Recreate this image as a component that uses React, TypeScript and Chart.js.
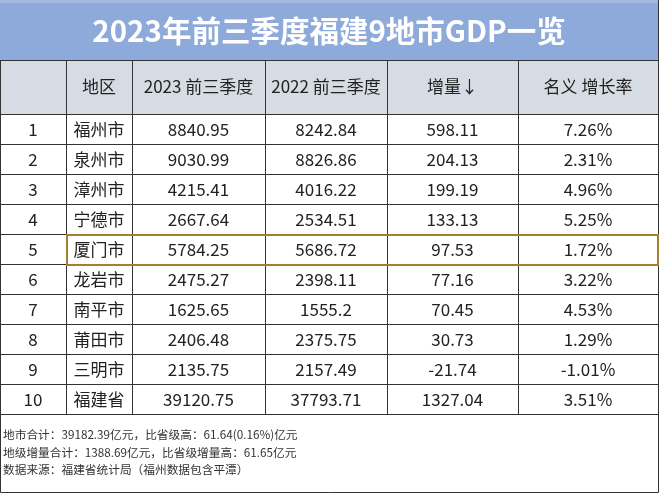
import React, { useEffect, useRef } from "react";
import { Chart, registerables } from "chart.js";

Chart.register(...registerables);

const titleText = "2023年前三季度福建9地市GDP一览";
const headers = ["", "地区", "2023 前三季度", "2022 前三季度", "增量↓", "名义 增长率"];
const ranks = ["1", "2", "3", "4", "5", "6", "7", "8", "9", "10"];
const regions = ["福州市", "泉州市", "漳州市", "宁德市", "厦门市", "龙岩市", "南平市", "莆田市", "三明市", "福建省"];
const gdp2023 = [8840.95, 9030.99, 4215.41, 2667.64, 5784.25, 2475.27, 1625.65, 2406.48, 2135.75, 39120.75];
const gdp2022 = [8242.84, 8826.86, 4016.22, 2534.51, 5686.72, 2398.11, 1555.2, 2375.75, 2157.49, 37793.71];
const increments = [598.11, 204.13, 199.19, 133.13, 97.53, 77.16, 70.45, 30.73, -21.74, 1327.04];
const growthRates = [7.26, 2.31, 4.96, 5.25, 1.72, 3.22, 4.53, 1.29, -1.01, 3.51];
const highlightRow = 4;
const footnotes = [
  "地市合计：39182.39亿元，比省级高：61.64(0.16%)亿元",
  "地级增量合计：1388.69亿元，比省级增量高：61.65亿元",
  "数据来源：福建省统计局（福州数据包含平潭）",
];

// layout: column edges in x-scale units
const COL_EDGES = [0, 66, 132, 265, 387, 518, 658];
const HEADER_UNITS = 1.8;
const FONT = '"Noto Sans CJK SC", "Noto Sans", sans-serif';

const tablePlugin = {
  id: "tablePlugin",
  beforeDraw(chart: any) {
    const { ctx, chartArea, scales } = chart;
    const xs = scales.x;
    const ys = scales.y;
    const W = chart.width;
    const H = chart.height;
    const px = (v: number) => Math.round(xs.getPixelForValue(v));
    const py = (v: number) => Math.round(ys.getPixelForValue(v));
    const left = px(COL_EDGES[0]);
    const right = px(COL_EDGES[COL_EDGES.length - 1]);
    const nRows = regions.length;

    ctx.save();
    ctx.fillStyle = "#ffffff";
    ctx.fillRect(0, 0, W, H);

    // title bar
    const top = chartArea.top;
    ctx.fillStyle = "#8eaadb";
    ctx.fillRect(left, 0, right - left, top);
    ctx.fillStyle = "#a3b8de";
    ctx.fillRect(left, 0, right - left, 3);
    ctx.fillStyle = "#ffffff";
    ctx.font = `bold 29.5px ${FONT}`;
    ctx.textAlign = "center";
    ctx.textBaseline = "middle";
    ctx.fillText(titleText, (left + right) / 2, top / 2 + 1);

    // header background
    const hTop = py(-HEADER_UNITS);
    const hBot = py(0);
    ctx.fillStyle = "#d6dce4";
    ctx.fillRect(left, hTop, right - left, hBot - hTop);

    // header text
    ctx.fillStyle = "#222222";
    ctx.font = `17px ${FONT}`;
    headers.forEach((h, c) => {
      const cx = (px(COL_EDGES[c]) + px(COL_EDGES[c + 1])) / 2;
      ctx.fillText(h, cx, (hTop + hBot) / 2);
    });

    // body text
    ctx.font = `17px ${FONT}`;
    for (let i = 0; i < nRows; i++) {
      const cy = (py(i) + py(i + 1)) / 2;
      const cells = [
        ranks[i],
        regions[i],
        String(gdp2023[i]),
        String(gdp2022[i]),
        String(increments[i]),
        `${growthRates[i].toFixed(2)}%`,
      ];
      cells.forEach((t, c) => {
        const cx = (px(COL_EDGES[c]) + px(COL_EDGES[c + 1])) / 2;
        ctx.fillText(t, cx, cy + 1);
      });
    }

    // grid lines
    ctx.strokeStyle = "#333333";
    ctx.lineWidth = 1;
    ctx.beginPath();
    ctx.moveTo(left, top + 0.5);
    ctx.lineTo(right, top + 0.5);
    for (let i = 0; i <= nRows; i++) {
      const y = py(i) + 0.5;
      ctx.moveTo(left, y);
      ctx.lineTo(right, y);
    }
    const tBot = py(nRows);
    for (let c = 1; c < COL_EDGES.length - 1; c++) {
      const x = px(COL_EDGES[c]) + 0.5;
      ctx.moveTo(x, hTop);
      ctx.lineTo(x, tBot);
    }
    ctx.stroke();

    // outer frame
    ctx.beginPath();
    ctx.moveTo(left + 0.5, top);
    ctx.lineTo(left + 0.5, H - 1.5);
    ctx.lineTo(right + 0.5, H - 1.5);
    ctx.lineTo(right + 0.5, 0);
    ctx.stroke();

    // highlight row
    const r0 = py(highlightRow);
    const r1 = py(highlightRow + 1);
    ctx.strokeStyle = "#a47f2d";
    ctx.lineWidth = 2;
    ctx.strokeRect(px(COL_EDGES[1]) + 1, r0 + 1, right - px(COL_EDGES[1]) - 1, r1 - r0);

    // footnotes
    ctx.fillStyle = "#333333";
    ctx.font = `11.7px ${FONT}`;
    ctx.textAlign = "left";
    footnotes.forEach((f, k) => {
      ctx.fillText(f, left + 3, tBot + 21 + k * 17.5);
    });
    ctx.restore();
  },
};

export default function App() {
  const canvasRef = useRef<HTMLCanvasElement | null>(null);

  useEffect(() => {
    document.body.style.margin = "0";
    const canvas = canvasRef.current;
    if (!canvas) return;
    const chart = new Chart(canvas, {
      type: "scatter",
      data: { datasets: [{ data: [], pointRadius: 0 }] },
      options: {
        responsive: false,
        animation: false,
        devicePixelRatio: 1,
        layout: { padding: { top: 60, bottom: 80, left: 0, right: 2 } },
        plugins: { legend: { display: false }, tooltip: { enabled: false }, title: { display: false } },
        scales: {
          x: { type: "linear", display: false, min: COL_EDGES[0], max: COL_EDGES[COL_EDGES.length - 1] },
          y: { type: "linear", display: false, reverse: true, min: -HEADER_UNITS, max: regions.length },
        },
      },
      plugins: [tablePlugin],
    });
    return () => chart.destroy();
  }, []);

  return <canvas ref={canvasRef} width={660} height={494} style={{ display: "block" }} />;
}
